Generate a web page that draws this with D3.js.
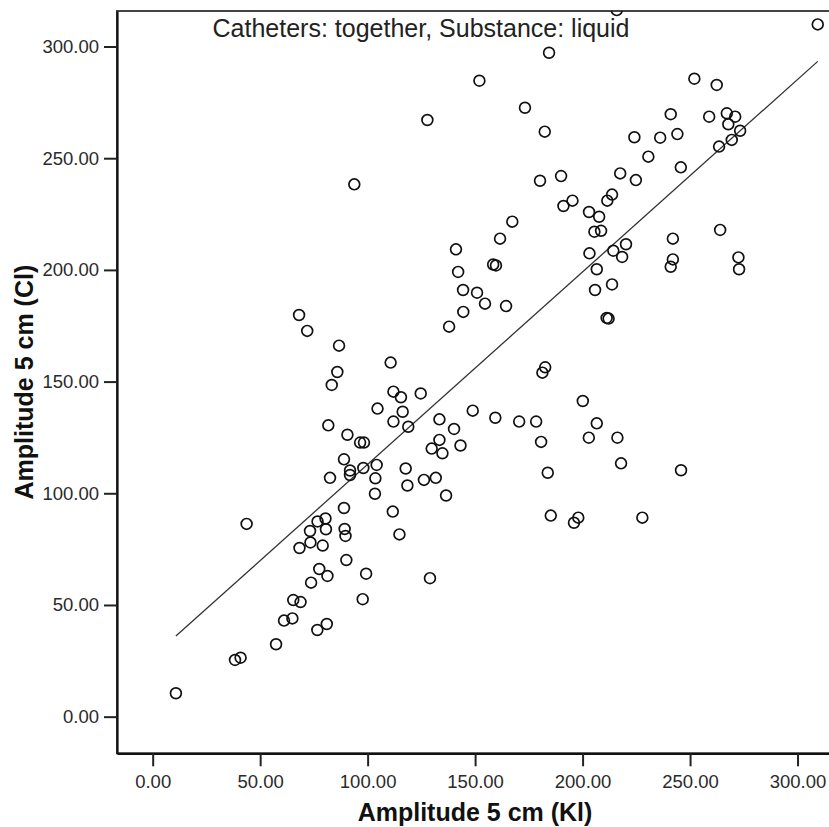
<!DOCTYPE html>
<html>
<head>
<meta charset="utf-8">
<script src="https://cdn.jsdelivr.net/npm/d3@7"></script>
<style>
  body { margin: 0; background: #fff; }
  svg { display: block; font-family: "Liberation Sans", Arial, sans-serif; }
</style>
</head>
<body>
<div class="chart"></div>
<script>
// Scatter: Amplitude 5 cm, KI vs CI

const width = 829
const height = 827

const title = 'Catheters: together, Substance: liquid'
const xTitle = 'Amplitude 5 cm (Kl)'
const yTitle = 'Amplitude 5 cm (Cl)'
const tickVals = [0, 50, 100, 150, 200, 250, 300]

// linear fit
const fitIntercept = 26.8
const fitSlope = 0.8615

const kl = [215.9, 309.4, 184.4, 152.0, 127.8, 173.2, 182.4, 252.0, 262.4, 241.0,
  258.9, 267.1, 271.0, 267.8, 273.3, 269.4, 263.5, 244.1, 236.1, 224.1,
  230.6, 245.7, 217.5, 224.8, 180.2, 190.0, 191.1, 195.3, 203.0, 207.7,
  211.5, 213.7, 205.5, 208.6, 203.2, 206.6, 214.3, 220.2, 218.4, 242.0,
  242.0, 241.0, 264.0, 272.5, 272.8, 167.3, 161.6, 141.1, 142.1, 158.4,
  159.7, 213.7, 205.8, 144.4, 150.9, 154.6, 164.4, 144.5, 137.9, 211.2,
  212.1, 182.6, 181.3, 200.1, 206.6, 202.9, 216.2, 217.9, 245.8, 183.8,
  180.7, 178.4, 170.5, 159.4, 148.9, 124.7, 115.5, 116.3, 118.9, 133.4,
  140.2, 133.4, 129.8, 134.8, 143.2, 117.7, 118.5, 126.2, 131.7, 136.5,
  185.2, 198.0, 196.0, 227.8, 114.8, 129.0, 68.1, 71.9, 86.7, 110.7,
  85.9, 83.3, 112.0, 104.6, 112.0, 81.7, 90.6, 96.5, 98.3, 89.0,
  91.8, 91.8, 98.0, 104.2, 103.6, 82.5, 103.4, 89.0, 111.7, 43.7,
  76.7, 80.4, 73.2, 80.6, 89.3, 89.7, 73.4, 79.1, 68.3, 90.1,
  77.5, 81.3, 73.7, 99.3, 97.7, 65.4, 68.8, 65.0, 61.1, 76.6,
  81.0, 57.4, 38.3, 40.9, 10.8, 93.8]

const cl = [316.3, 309.9, 297.2, 284.7, 267.1, 272.6, 261.9, 285.6, 282.8, 269.7,
  268.6, 270.1, 268.6, 265.2, 262.3, 258.2, 255.2, 260.8, 259.2, 259.4,
  250.7, 245.9, 243.2, 240.2, 239.9, 242.0, 228.6, 231.0, 225.9, 223.8,
  231.0, 233.7, 217.1, 217.5, 207.4, 200.3, 208.6, 211.5, 205.8, 214.0,
  204.7, 201.4, 217.9, 205.6, 200.3, 221.6, 214.0, 209.2, 199.1, 202.4,
  202.0, 193.5, 191.0, 191.0, 189.8, 184.9, 183.8, 181.2, 174.6, 178.5,
  178.2, 156.4, 154.0, 141.3, 131.3, 124.9, 124.9, 113.4, 110.3, 109.2,
  123.0, 132.1, 132.1, 133.8, 137.0, 144.7, 143.0, 136.5, 129.8, 133.1,
  128.8, 123.9, 120.0, 117.9, 121.4, 111.1, 103.5, 106.0, 106.9, 99.0,
  90.0, 89.1, 86.8, 89.1, 81.6, 62.0, 179.8, 172.7, 166.1, 158.5,
  154.3, 148.5, 145.5, 137.9, 132.1, 130.4, 126.2, 122.7, 122.7, 115.2,
  110.2, 108.2, 111.3, 112.7, 106.7, 106.9, 99.8, 93.4, 91.8, 86.3,
  87.4, 88.7, 83.1, 83.9, 84.0, 80.9, 78.0, 76.6, 75.5, 70.1,
  66.1, 63.0, 60.0, 64.0, 52.6, 52.2, 51.3, 44.0, 43.0, 38.8,
  41.5, 32.4, 25.4, 26.4, 10.5, 238.3]

const points = kl.map((k, i) => ({ kl: k, cl: cl[i] }))

const plotLeft = 117, plotRight = 833, plotTop = 11, plotBottom = 753.3

const x = d3.scaleLinear().domain([-16.6, 316.5]).range([plotLeft, plotRight])
const y = d3.scaleLinear().domain([-16.4, 315.9]).range([plotBottom, plotTop])

const svg = d3.select('.chart')
  .append('svg')
  .attr('width', width)
  .attr('height', height)
  .attr('viewBox', [0, 0, width, height])

svg.append('clipPath').attr('id', 'plot')
  .append('rect')
  .attr('x', plotLeft).attr('y', plotTop)
  .attr('width', plotRight - plotLeft).attr('height', plotBottom - plotTop)

// frame
svg.append('rect')
  .attr('x', plotLeft).attr('y', plotTop)
  .attr('width', plotRight - plotLeft).attr('height', plotBottom - plotTop)
  .attr('fill', 'none')
  .attr('stroke', '#444')
  .attr('stroke-width', 2)

svg.append('g')
  .attr('transform', `translate(0,${plotBottom})`)
  .call(d3.axisBottom(x).tickValues(tickVals).tickFormat(d3.format('.2f'))
    .tickSize(13).tickPadding(9).tickSizeOuter(0))

svg.append('g')
  .attr('transform', `translate(${plotLeft},0)`)
  .call(d3.axisLeft(y).tickValues(tickVals).tickFormat(d3.format('.2f'))
    .tickSize(13).tickPadding(5).tickSizeOuter(0))

svg.selectAll('.domain').attr('stroke', '#111').attr('stroke-width', 2.2)
svg.selectAll('.tick line').attr('stroke', '#222').attr('stroke-width', 2)
svg.selectAll('.tick text')
  .attr('font-size', 18.5)
  .attr('fill', '#2a2a2a')
  .attr('font-family', '"Liberation Sans", Arial, sans-serif')

const g = svg.append('g').attr('clip-path', 'url(#plot)')

const xMin = d3.min(kl), xMax = d3.max(kl)
g.append('line')
  .attr('x1', x(xMin)).attr('y1', y(fitIntercept + fitSlope * xMin))
  .attr('x2', x(xMax)).attr('y2', y(fitIntercept + fitSlope * xMax))
  .attr('stroke', '#333')
  .attr('stroke-width', 1.3)

g.selectAll('circle')
  .data(points)
  .enter().append('circle')
    .attr('cx', d => x(d.kl))
    .attr('cy', d => y(d.cl))
    .attr('r', 5.4)
    .attr('fill', 'none')
    .attr('stroke', '#111')
    .attr('stroke-width', 1.7)

svg.append('text')
  .attr('x', 421)
  .attr('y', 37)
  .attr('text-anchor', 'middle')
  .attr('font-size', 25)
  .attr('fill', '#222')
  .text(title)

svg.append('text')
  .attr('x', (plotLeft + plotRight) / 2)
  .attr('y', 821)
  .attr('text-anchor', 'middle')
  .attr('font-size', 25)
  .attr('font-weight', 'bold')
  .attr('fill', '#111')
  .text(xTitle)

svg.append('text')
  .attr('transform', `translate(33,${(plotTop + plotBottom) / 2}) rotate(-90)`)
  .attr('text-anchor', 'middle')
  .attr('font-size', 25)
  .attr('font-weight', 'bold')
  .attr('fill', '#111')
  .text(yTitle)
</script>
</body>
</html>
